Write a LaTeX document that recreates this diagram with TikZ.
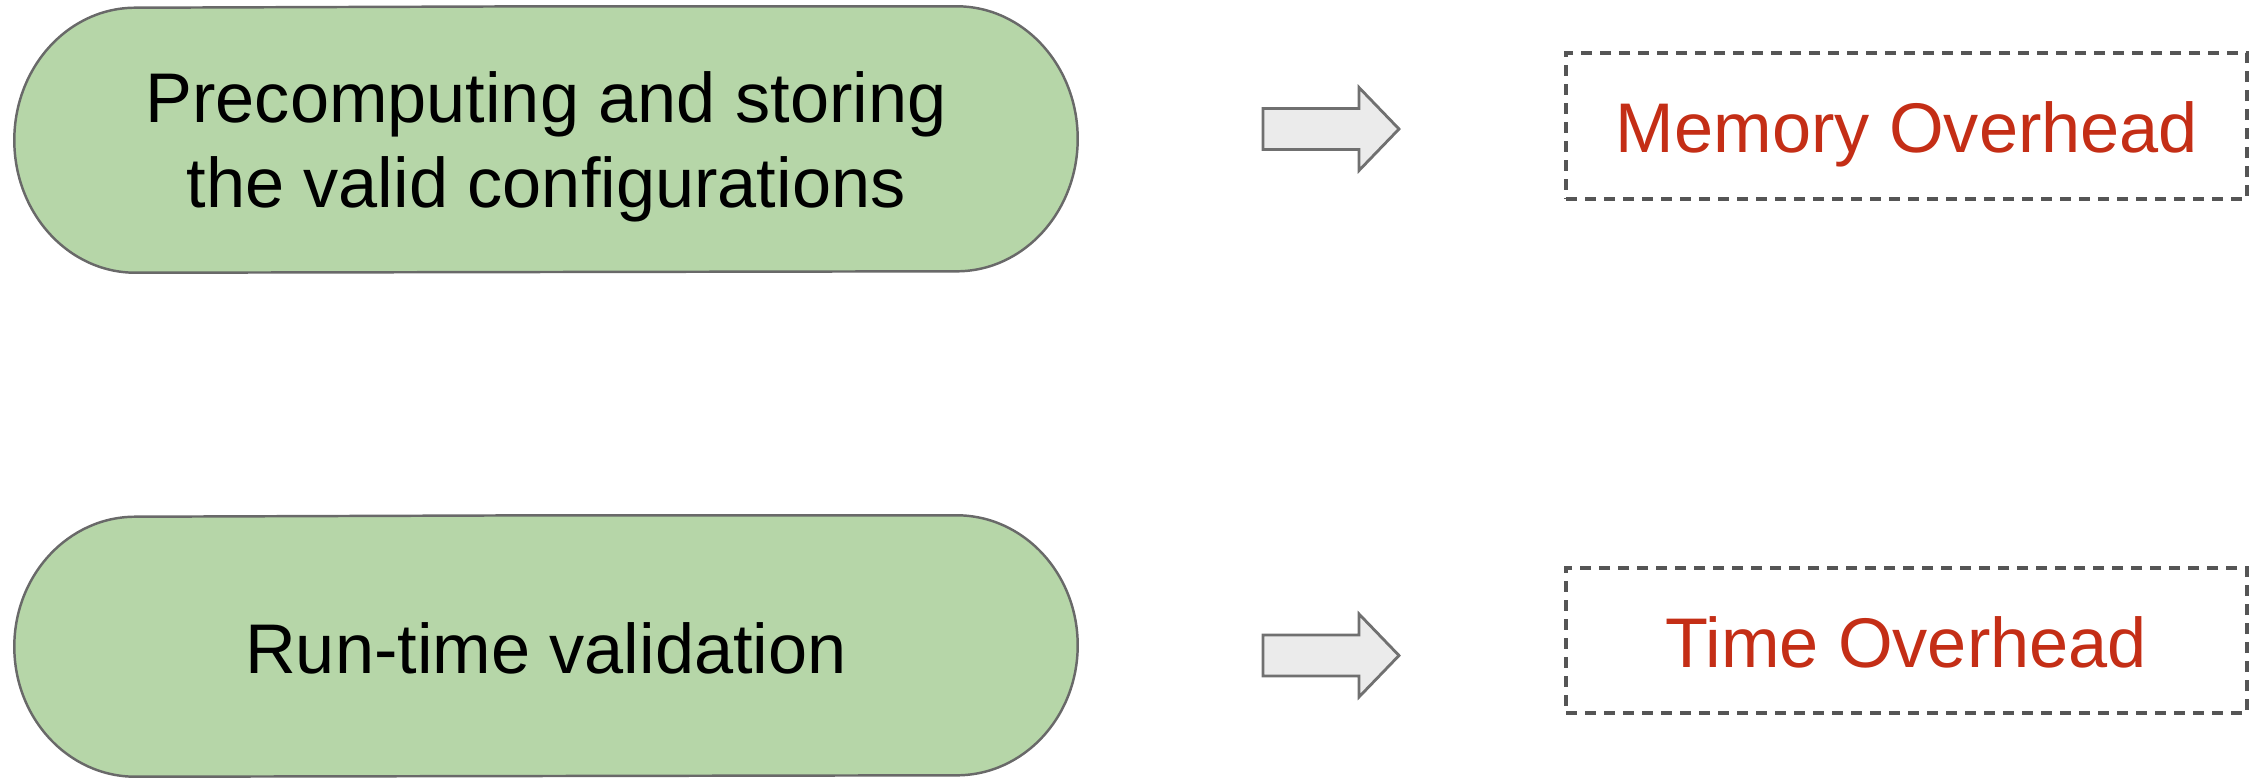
\documentclass[tikz,border=0pt]{standalone}
\usepackage{fontspec}
\setmainfont{Liberation Sans}
\definecolor{pillfill}{RGB}{182,214,168}
\definecolor{pillline}{RGB}{105,105,105}
\definecolor{arrowfill}{RGB}{235,235,235}
\definecolor{arrowline}{RGB}{112,112,112}
\definecolor{dashline}{RGB}{85,85,85}
\definecolor{ohred}{RGB}{196,46,22}
\tikzset{
  pillcore/.style={rectangle, inner sep=0pt, minimum width=8.20cm},
  pill/.style={draw=pillline, fill=pillfill, line width=0.7pt},
  pilltext/.style={font=\fontsize{20}{24.2}\selectfont, align=center, text=black, inner sep=0pt},
  blockarrow/.style={draw=arrowline, fill=arrowfill, line width=0.8pt, line join=miter},
  dashbox/.style={draw=dashline, dash pattern=on 0.11cm off 0.08cm, line width=0.9pt,
    minimum width=6.81cm, inner sep=0pt},
  redtext/.style={font=\fontsize{20}{24}\selectfont, text=ohred, inner sep=0pt}
}
% pill outline: straight top and bottom, half-ellipse ends
\newcommand{\drawpill}[2]{%
  \draw[pill] (#1.north) -- (#1.north east)
    arc[start angle=90, end angle=-90, x radius=1.21cm, y radius=#2]
    -- (#1.south west)
    arc[start angle=270, end angle=90, x radius=1.21cm, y radius=#2] -- cycle;}
% block arrow pointing right, drawn from its left-middle point
\newcommand{\drawblockarrow}[1]{%
  \draw[blockarrow] (#1) ++(0,0.205) -- ++(0.96,0) -- ++(0,0.21) -- ++(0.40,-0.415)
    -- ++(-0.40,-0.415) -- ++(0,0.21) -- ++(-0.96,0) -- cycle;}
\begin{document}
\begin{tikzpicture}
\useasboundingbox (0,0) rectangle (22.51,7.78);

% upper row
\node[pillcore, minimum height=2.65cm] (pre) at (5.46,6.385) {};
\drawpill{pre}{1.325cm}
\node[pilltext] (pretext) at (5.46,6.31) {Precomputing and storing\\the valid configurations};
\coordinate (arr1) at (12.63,6.49);
\drawblockarrow{arr1}
\node[dashbox, minimum height=1.46cm] (mem) at (19.065,6.52) {};
\node[redtext, anchor=base] (memtext) at (19.07,6.26) {Memory Overhead};

% lower row
\node[pillcore, minimum height=2.60cm] (run) at (5.46,1.32) {};
\drawpill{run}{1.30cm}
\node[pilltext, anchor=base] (runtext) at (5.46,1.05) {Run-time validation};
\coordinate (arr2) at (12.63,1.225);
\drawblockarrow{arr2}
\node[dashbox, minimum height=1.45cm] (time) at (19.065,1.375) {};
\node[redtext, anchor=base] (timetext) at (19.06,1.11) {Time Overhead};
\end{tikzpicture}
\end{document}
